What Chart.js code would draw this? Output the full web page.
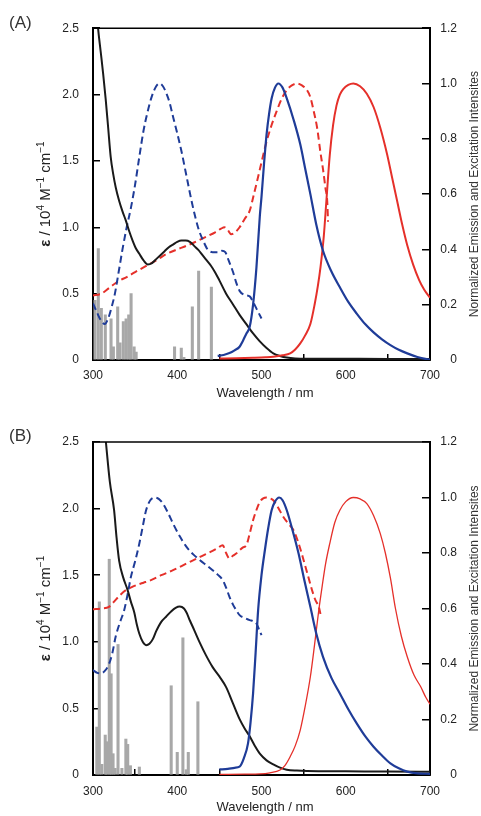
<!DOCTYPE html>
<html>
<head>
<meta charset="utf-8">
<script src="https://cdn.jsdelivr.net/npm/chart.js@4/dist/chart.umd.min.js"></script>
<style>
  html, body { margin: 0; padding: 0; background: #fff; }
  #wrap { position: relative; width: 481px; height: 816px; overflow: hidden; }
  canvas { position: absolute; left: 0; }
</style>
</head>
<body>
<div id="wrap">
  <canvas id="cA" width="481" height="408" style="top:0"></canvas>
  <canvas id="cB" width="481" height="408" style="top:408px"></canvas>
</div>
<script>
// ---------- tick values ----------
const xTickValues = [300, 400, 500, 600, 700];
const leftTickValues = [0, 0.5, 1.0, 1.5, 2.0, 2.5];
const rightTickValues = [0, 0.2, 0.4, 0.6, 0.8, 1.0, 1.2];

// ---------- Panel A ----------
const aAbsWl = [303,306,309,312,315,318,321,324,327,331,335,339,343,347,351,355,360,365,370,375,380,385,390,395,400,405,410,415,420,425,430,435,440,445,450,458,466,474,482,490,498,506,514,522,530,540,560,600,650,700];
const aAbsEps = [2.75,2.5,2.33,2.16,1.97,1.75,1.53,1.4,1.3,1.2,1.12,1.05,0.97,0.9,0.84,0.8,0.75,0.72,0.73,0.76,0.79,0.82,0.85,0.87,0.89,0.9,0.9,0.89,0.86,0.83,0.79,0.75,0.71,0.66,0.6,0.5,0.42,0.34,0.27,0.2,0.14,0.09,0.05,0.03,0.018,0.012,0.01,0.009,0.008,0.008];

const aStickWl = [302.4,306.3,309.9,314.6,321.4,324.2,329.3,332.1,336,339.3,342.4,345.2,348.8,351.2,396.8,404.8,407.9,417.9,425.4,440.5];
const aStickEps = [0.45,0.84,0.39,0.34,0.31,0.1,0.4,0.13,0.29,0.31,0.34,0.5,0.1,0.06,0.1,0.09,0.02,0.4,0.67,0.55];

const aExcBlueWl = [300,305,310,314,318,322,326,330,335,340,345,350,355,360,365,370,375,379,383,387,391,395,400,405,410,417,422,426,431,436,442,448,453,457,461,466,470,474,480,486,490,495,500];
const aExcBlue = [0.205,0.17,0.14,0.13,0.15,0.19,0.24,0.31,0.4,0.48,0.55,0.635,0.735,0.83,0.9,0.955,0.99,1.0,0.99,0.965,0.93,0.88,0.82,0.755,0.68,0.575,0.51,0.467,0.43,0.4,0.39,0.39,0.395,0.39,0.36,0.32,0.28,0.25,0.235,0.23,0.21,0.18,0.15];

const aExcRedWl = [300,310,319,330,340,350,360,367,375,387,400,411,420,434,445,452,456,460,464,468,474,480,486,490,495,500,506,512,518,524,530,536,542,548,554,558,562,566,570,573,576,578,579];
const aExcRed = [0.233,0.24,0.26,0.285,0.3,0.318,0.335,0.347,0.36,0.383,0.4,0.413,0.425,0.445,0.462,0.475,0.48,0.47,0.455,0.46,0.48,0.51,0.54,0.587,0.65,0.715,0.79,0.85,0.9,0.945,0.976,0.993,1.0,0.993,0.976,0.95,0.9,0.84,0.75,0.69,0.62,0.575,0.5];

const aEmBlueWl = [448,455,462,468,474,478,482,486,490,494,498,500,503,506,509,512,516,520,525,530,538,546,552,558,565,573,583,593,603,613,623,633,643,653,663,673,685,696,700];
const aEmBlue = [0.015,0.018,0.025,0.035,0.048,0.07,0.095,0.12,0.2,0.335,0.52,0.59,0.71,0.815,0.89,0.946,0.985,1.0,0.985,0.946,0.87,0.78,0.69,0.6,0.49,0.395,0.32,0.263,0.21,0.168,0.13,0.1,0.075,0.054,0.037,0.024,0.011,0.003,0.001];

const aEmRedWl = [450,470,490,505,514,525,534,540,546,552,558,563,567,570,574,577,581,585,589,593,597,603,609,617,625,633,641,649,655,661,667,673,680,687,693,700];
const aEmRed = [0.005,0.006,0.008,0.01,0.012,0.017,0.024,0.038,0.06,0.09,0.13,0.2,0.27,0.335,0.45,0.575,0.74,0.85,0.92,0.96,0.98,0.995,1.0,0.99,0.963,0.915,0.84,0.745,0.66,0.575,0.49,0.415,0.345,0.29,0.255,0.225];

// ---------- Panel B ----------
const bAbsWl = [315,320,325,328,331,336,341,345,349,352,355,359,363,367,371,375,381,387,393,398,403,408,411,415,420,427,434,442,450,458,466,474,480,486,492,498,506,514,522,530,542,554,600,650,700];
const bAbsEps = [2.52,2.2,1.99,1.78,1.61,1.48,1.39,1.3,1.22,1.13,1.06,1.0,0.975,0.985,1.02,1.08,1.15,1.19,1.23,1.255,1.265,1.25,1.22,1.16,1.09,0.99,0.9,0.81,0.74,0.66,0.54,0.42,0.35,0.29,0.22,0.16,0.11,0.08,0.055,0.04,0.033,0.03,0.028,0.026,0.025];

const bStickWl = [304.5,307.5,310.5,314.5,316.5,319.3,321.5,323.8,326.3,329.7,334.3,339,341.2,344.4,355,392.8,400,406.7,410.7,413.1,424.5];
const bStickEps = [0.36,1.3,0.08,0.3,0.25,1.62,0.76,0.16,0.05,0.98,0.05,0.27,0.23,0.07,0.06,0.67,0.17,1.03,0.04,0.17,0.55];

const bExcBlueWl = [300,305,309.5,314,319,323,327,332,337,341,345,350,355,359,363,368,373,378,383,389,395,403,411,419,427,435,442,448,454,458,462,466,470,474,480,486,490,494,497,500];
const bExcBlue = [0.378,0.368,0.366,0.375,0.4,0.44,0.5,0.55,0.594,0.65,0.714,0.77,0.834,0.895,0.954,0.99,1.0,0.995,0.978,0.945,0.906,0.86,0.822,0.795,0.774,0.755,0.738,0.722,0.702,0.675,0.642,0.615,0.594,0.576,0.566,0.558,0.555,0.546,0.525,0.504];

const bExcRedWl = [300,310,319,325,332,339,346,353,360,367,381,395,411,427,440,448,454,458,462,466,470,474,478,482,486,490,494,498,502,506,510,514,520,526,532,538,544,550,555,560,564,568,570];
const bExcRed = [0.597,0.6,0.606,0.625,0.648,0.666,0.677,0.686,0.693,0.7,0.72,0.738,0.762,0.786,0.805,0.818,0.828,0.8,0.78,0.79,0.798,0.81,0.82,0.828,0.87,0.918,0.955,0.984,0.997,1.0,0.997,0.99,0.962,0.93,0.905,0.882,0.835,0.774,0.72,0.666,0.63,0.606,0.58];

const bEmBlueWl = [450,460,468,474,479,484,487,490,493,496,500,504,508,512,516,521,525,530,537,544,551,558,565,573,583,593,603,613,623,633,643,653,663,673,685,700];
const bEmBlue = [0.02,0.022,0.026,0.03,0.06,0.114,0.19,0.294,0.44,0.594,0.72,0.81,0.89,0.954,0.985,1.0,0.99,0.954,0.88,0.798,0.7,0.606,0.51,0.426,0.35,0.294,0.237,0.186,0.14,0.102,0.07,0.042,0.024,0.012,0.006,0.004];

const bEmRedWl = [450,480,498,510,522,528,534,540,546,552,558,563,568,572,576,581,587,593,600,609,617,625,633,641,647,653,659,666,673,681,689,695,700];
const bEmRed = [0.002,0.003,0.004,0.008,0.018,0.035,0.066,0.105,0.162,0.25,0.354,0.47,0.594,0.68,0.76,0.834,0.91,0.954,0.985,1.0,0.995,0.978,0.935,0.87,0.8,0.71,0.6,0.5,0.426,0.36,0.318,0.28,0.255];

// ---------- styles ----------
const BLUE = '#1f3c98';
const RED = '#e5302a';
const BLACK = '#1a1a1a';
const GRAY = '#a8a8a8';
const FONT = '"Liberation Sans", Arial, Helvetica, sans-serif';
const DASH = [7, 4];

const zip = (xs, ys) => xs.map((x, i) => ({ x: x, y: ys[i] }));

function line(xs, ys, color, axis, width, dash, order) {
  return {
    type: 'line', data: zip(xs, ys), yAxisID: axis, xAxisID: 'x',
    borderColor: color, borderWidth: width, borderDash: dash || [],
    pointRadius: 0, fill: false, cubicInterpolationMode: 'monotone', order: order
  };
}
function sticks(xs, ys) {
  return {
    type: 'bar', data: zip(xs, ys), yAxisID: 'y', xAxisID: 'x',
    backgroundColor: GRAY, borderWidth: 0, barThickness: 2.4, grouped: false, order: 20
  };
}

const fmtY = v => (v === 0 ? '0' : Number(v).toFixed(1));

const decor = {
  id: 'decor',
  afterDraw(chart, args, o) {
    const { ctx, chartArea: a } = chart;
    ctx.save();
    // top frame line
    ctx.strokeStyle = '#000';
    ctx.lineWidth = 1.5;
    ctx.beginPath();
    ctx.moveTo(a.left, a.top);
    ctx.lineTo(a.right, a.top);
    ctx.stroke();
    // panel label
    ctx.fillStyle = '#333';
    ctx.textBaseline = 'middle';
    ctx.textAlign = 'left';
    ctx.font = '17px ' + FONT;
    ctx.fillText(o.label, 9, o.labelY);
    // x title
    ctx.fillStyle = '#222';
    ctx.textAlign = 'center';
    ctx.font = '13px ' + FONT;
    ctx.fillText('Wavelength / nm', 265, o.xTitleY);
    // right title
    const cy = (a.top + a.bottom) / 2;
    ctx.save();
    ctx.translate(475, cy);
    ctx.rotate(-Math.PI / 2);
    ctx.font = '12px ' + FONT;
    ctx.fillStyle = '#333';
    ctx.textAlign = 'center';
    ctx.fillText('Normalized Emission and Excitation Intensites', 0, 0);
    ctx.restore();
    // left title with bold epsilon and superscripts
    const segs = [
      ['\u03b5', 'bold 15px ' + FONT, 0],
      [' / 10', '15px ' + FONT, 0],
      ['4', '10px ' + FONT, -5],
      [' M', '15px ' + FONT, 0],
      ['\u22121', '10px ' + FONT, -5],
      [' cm', '15px ' + FONT, 0],
      ['\u22121', '10px ' + FONT, -5]
    ];
    let total = 0;
    segs.forEach(s => { ctx.font = s[1]; total += ctx.measureText(s[0]).width; });
    ctx.save();
    ctx.translate(46, cy);
    ctx.rotate(-Math.PI / 2);
    ctx.textAlign = 'left';
    ctx.textBaseline = 'middle';
    ctx.fillStyle = '#222';
    let x = -total / 2;
    segs.forEach(s => {
      ctx.font = s[1];
      ctx.fillText(s[0], x, s[2]);
      x += ctx.measureText(s[0]).width;
    });
    ctx.restore();
    ctx.restore();
  }
};

function makeChart(id, datasets, topPad, xAxisH, xPad, label, labelY, xTitleY) {
  return new Chart(document.getElementById(id), {
    type: 'line',
    data: { datasets: datasets },
    plugins: [decor],
    options: {
      responsive: false, animation: false, devicePixelRatio: 1, events: [],
      layout: { padding: { top: topPad, right: 24, left: 0, bottom: 0 } },
      plugins: {
        legend: { display: false }, tooltip: { enabled: false },
        decor: { label: label, labelY: labelY, xTitleY: xTitleY }
      },
      scales: {
        x: {
          type: 'linear', position: 'bottom', min: 300, max: 700, offset: false,
          afterBuildTicks: s => { s.ticks = xTickValues.map(v => ({ value: v })); },
          afterFit: s => { s.height = xAxisH; },
          ticks: { color: '#222', font: { family: FONT, size: 12 }, padding: xPad, maxRotation: 0, callback: v => String(v) },
          grid: { drawOnChartArea: false, drawTicks: true, tickLength: -6, color: '#000', lineWidth: 1.5 },
          border: { display: true, color: '#000', width: 2 }
        },
        y: {
          type: 'linear', position: 'left', min: 0, max: 2.5,
          afterBuildTicks: s => { s.ticks = leftTickValues.map(v => ({ value: v })); },
          afterFit: s => { s.width = 93; },
          ticks: { color: '#222', font: { family: FONT, size: 12 }, padding: 21, callback: fmtY },
          grid: { drawOnChartArea: false, drawTicks: true, tickLength: -7, color: '#000', lineWidth: 1.5 },
          border: { display: true, color: '#000', width: 2 }
        },
        y2: {
          type: 'linear', position: 'right', min: 0, max: 1.2,
          afterBuildTicks: s => { s.ticks = rightTickValues.map(v => ({ value: v })); },
          afterFit: s => { s.width = 27; },
          ticks: { color: '#222', font: { family: FONT, size: 12 }, padding: 10, crossAlign: 'far', callback: fmtY },
          grid: { drawOnChartArea: false, drawTicks: true, tickLength: -8, color: '#000', lineWidth: 1.5 },
          border: { display: true, color: '#000', width: 2 }
        }
      }
    }
  });
}

makeChart('cA', [
  sticks(aStickWl, aStickEps),
  line(aExcRedWl, aExcRed, RED, 'y2', 2, DASH, 5),
  line(aExcBlueWl, aExcBlue, BLUE, 'y2', 2, DASH, 4),
  line(aAbsWl, aAbsEps, BLACK, 'y', 2, null, 3),
  line(aEmRedWl, aEmRed, RED, 'y2', 2, null, 2),
  line(aEmBlueWl, aEmBlue, BLUE, 'y2', 2.2, null, 1)
], 26, 48, 14, '(A)', 23, 393);

makeChart('cB', [
  sticks(bStickWl, bStickEps),
  line(bExcRedWl, bExcRed, RED, 'y2', 2, DASH, 5),
  line(bExcBlueWl, bExcBlue, BLUE, 'y2', 2, DASH, 4),
  line(bAbsWl, bAbsEps, BLACK, 'y', 2, null, 3),
  line(bEmRedWl, bEmRed, RED, 'y2', 1.3, null, 2),
  line(bEmBlueWl, bEmBlue, BLUE, 'y2', 2.2, null, 1)
], 34, 41, 15, '(B)', 28, 399);
</script>
</body>
</html>
